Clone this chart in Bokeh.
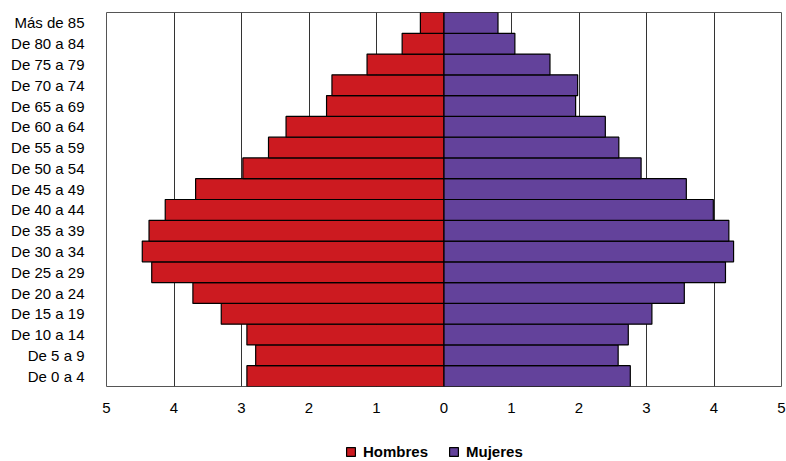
from bokeh.plotting import figure
from bokeh.models import ColumnDataSource, FixedTicker, Legend, LegendItem
from bokeh.layouts import column
from bokeh.embed import file_html
from bokeh.resources import INLINE

categories = ["De 0 a 4", "De 5 a 9", "De 10 a 14", "De 15 a 19", "De 20 a 24",
              "De 25 a 29", "De 30 a 34", "De 35 a 39", "De 40 a 44", "De 45 a 49",
              "De 50 a 54", "De 55 a 59", "De 60 a 64", "De 65 a 69", "De 70 a 74",
              "De 75 a 79", "De 80 a 84", "Más de 85"]
hombres = [2.92, 2.79, 2.92, 3.30, 3.72, 4.33, 4.47, 4.37, 4.13, 3.68,
           2.98, 2.60, 2.34, 1.74, 1.66, 1.14, 0.62, 0.35]
mujeres = [2.76, 2.58, 2.73, 3.08, 3.56, 4.17, 4.29, 4.22, 3.99, 3.59,
           2.92, 2.59, 2.39, 1.95, 1.98, 1.57, 1.05, 0.80]
series_names = ["Hombres", "Mujeres"]
tick_values = [-5, -4, -3, -2, -1, 0, 1, 2, 3, 4, 5]
tick_labels = ["5", "4", "3", "2", "1", "0", "1", "2", "3", "4", "5"]

RED = "#CC1A20"
PURPLE = "#63429B"
FONT = "Liberation Sans"

src = ColumnDataSource(data=dict(
    cat=categories,
    h_left=[-v for v in hombres],
    zero=[0] * len(categories),
    m_right=mujeres,
))

p = figure(width=786, height=430, y_range=categories, x_range=(-5, 5),
           output_backend="svg", toolbar_location=None,
           min_border_left=106, min_border_right=5, min_border_top=12,
           min_border_bottom=44)

p.hbar(y="cat", left="h_left", right="zero", height=1.0, source=src,
       fill_color=RED, line_color="black", line_width=1.2)
p.hbar(y="cat", left="zero", right="m_right", height=1.0, source=src,
       fill_color=PURPLE, line_color="black", line_width=1.2)

p.xaxis.ticker = FixedTicker(ticks=tick_values)
p.xaxis.major_label_overrides = {v: l for v, l in zip(tick_values, tick_labels)}
for ax in (p.xaxis[0], p.yaxis[0]):
    ax.axis_line_color = None
    ax.major_tick_line_color = None
    ax.minor_tick_line_color = None
    ax.major_label_text_font = FONT
    ax.major_label_text_font_size = "15px"
    ax.major_label_text_color = "black"
p.xaxis.major_label_standoff = 10
p.yaxis.major_label_standoff = 16

p.xgrid.grid_line_color = "#333333"
p.xgrid.grid_line_width = 1
p.ygrid.grid_line_color = None
p.outline_line_color = "#555555"
p.outline_line_width = 1

# Legend strip below the chart (swatch glyphs sit outside its visible range)
lg = figure(width=786, height=31, x_range=(0, 1), y_range=(0, 1),
            output_backend="svg", toolbar_location=None,
            min_border_left=0, min_border_right=0, min_border_top=0,
            min_border_bottom=0)
lg.axis.visible = False
lg.grid.visible = False
lg.outline_line_color = None
swatch = ColumnDataSource(data=dict(y=[-10], left=[0], right=[1]))
r_h = lg.hbar(y="y", left="left", right="right", height=1, source=swatch,
              fill_color=RED, line_color="black", line_width=1.2)
r_m = lg.hbar(y="y", left="left", right="right", height=1, source=swatch,
              fill_color=PURPLE, line_color="black", line_width=1.2)

legend = Legend(items=[LegendItem(label=series_names[0], renderers=[r_h]),
                       LegendItem(label=series_names[1], renderers=[r_m])],
                orientation="horizontal", location=(239, 1),
                glyph_width=11, glyph_height=11, label_height=11,
                label_standoff=7, spacing=20, padding=0, margin=0,
                label_text_font=FONT, label_text_font_size="15px",
                label_text_font_style="bold", label_text_color="black",
                background_fill_alpha=0, border_line_color=None)
lg.add_layout(legend, "center")

layout = column(p, lg, spacing=0)

open("out.html", "w").write(file_html(layout, INLINE))
